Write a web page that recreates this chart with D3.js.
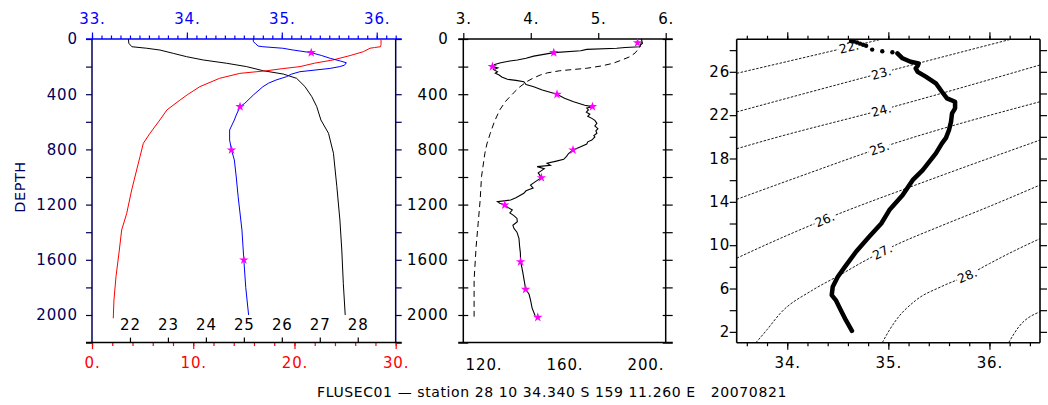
<!DOCTYPE html>
<html>
<head>
<meta charset="utf-8">
<script src="https://cdn.jsdelivr.net/npm/d3@7"></script>
<style>
  html, body { margin: 0; padding: 0; background: #fff; }
  svg { display: block; }
</style>
</head>
<body>
<svg id="chart" width="1048" height="405"></svg>
<script>
// ---------------- station profile data ----------------
// salinity (CTD) vs depth
const salDepth = [0, 20, 31, 51, 56, 67, 80, 99, 120, 140, 160, 172, 190, 200, 213, 237, 255, 273, 297, 320, 346, 406, 466, 490, 551, 587, 659, 732, 804, 877, 1000, 1143, 1384, 1601, 1800, 2000];
const salinity = [34.70, 34.70, 34.72, 34.75, 34.80, 35.01, 35.12, 35.31, 35.42, 35.51, 35.62, 35.68, 35.66, 35.61, 35.51, 35.19, 35.10, 35.05, 34.94, 34.86, 34.80, 34.70, 34.61, 34.56, 34.52, 34.50, 34.45, 34.45, 34.47, 34.50, 34.52, 34.54, 34.58, 34.60, 34.62, 34.65];
// salinity bottle samples
const botSalDepth = [99, 490, 804, 1601];
const botSal = [35.31, 34.56, 34.47, 34.60];

// temperature vs depth
const tempDepth = [0, 40, 56, 62, 67, 92, 120, 152, 175, 200, 215, 230, 249, 285, 345, 400, 442, 514, 587, 683, 756, 853, 949, 1094, 1263, 1384, 1529, 1722, 1891, 2024];
const temperature = [28.55, 28.55, 28.5, 27.9, 27.46, 26.8, 25.5, 23.8, 22.0, 20.55, 18.8, 17.26, 14.6, 12.6, 10.66, 9.5, 8.7, 7.4, 6.7, 5.73, 5.07, 4.74, 4.41, 3.92, 3.43, 2.93, 2.7, 2.37, 2.17, 2.1];

// sigma-theta vs depth
const sigDepth = [0, 31, 56, 67, 80, 104, 128, 152, 176, 200, 230, 254, 285, 345, 418, 490, 587, 683, 828, 1070, 1312, 1529, 1770, 2000];
const sigma = [21.96, 21.97, 22.05, 22.44, 22.79, 23.14, 23.49, 23.93, 24.55, 25.07, 25.51, 26.04, 26.39, 26.61, 26.79, 26.92, 27.03, 27.23, 27.36, 27.45, 27.53, 27.58, 27.62, 27.67];

// oxygen (CTD) vs depth, lower axis
const oxyDepth = [0, 31, 45, 56, 62, 67, 75, 85, 99, 124, 140, 152, 160, 172, 185, 200, 210, 222, 237, 248, 261, 275, 292, 300, 309, 330, 346, 370, 401, 430, 454, 480, 490, 500, 514, 530, 545, 560, 575, 590, 611, 630, 650, 665, 683, 700, 710, 732, 745, 761, 780, 804, 830, 850, 872, 885, 901, 915, 925, 940, 950, 970, 1005, 1030, 1058, 1080, 1100, 1118, 1150, 1167, 1179, 1190, 1203, 1220, 1239, 1260, 1280, 1300, 1324, 1350, 1372, 1400, 1444, 1500, 1550, 1614, 1660, 1700, 1760, 1814, 1850, 1891, 1950, 2005];
const oxygen = [198.0, 198.5, 197.5, 197.2, 190, 185.8, 171, 168, 154.7, 144.8, 141, 136.7, 133, 128.5, 125.5, 124.4, 127, 125, 126.9, 125.8, 127.7, 129, 131.8, 136, 139.9, 141, 144.8, 149, 156.3, 160, 164.5, 170, 173.8, 171, 171.8, 170.8, 172.5, 171.5, 173.5, 175, 176, 175, 176.5, 175.5, 176, 174.5, 175, 173.5, 171.5, 171, 168, 164.2, 162, 161, 159.6, 156, 151.4, 153, 146.5, 150, 149, 147, 148.6, 146, 143.2, 144.5, 141, 139.9, 136, 133.4, 126.9, 128, 130.5, 132, 134.2, 133, 135, 136.5, 136.7, 134.5, 135, 136.5, 137.5, 137.8, 138.2, 138.3, 139, 139.5, 140.2, 140.8, 142.5, 143.2, 144, 145.5];
// oxygen bottle samples
const botOxyDepth = [27, 99, 200, 401, 490, 804, 1005, 1203, 1614, 1814, 2017];
const botOxy = [196.1, 154.7, 124.4, 156.3, 173.8, 164.2, 148.6, 130.5, 138.3, 140.8, 146.8];

// second middle-panel profile, upper axis
const upperDepth = [20, 56, 100, 128, 150, 176, 195, 212, 230, 245, 261, 285, 309, 350, 393, 450, 514, 600, 683, 760, 828, 998, 1167, 1336, 1505, 1746, 2012];
const upperVal = [5.64, 5.62, 5.55, 5.47, 5.36, 5.22, 5.05, 4.83, 4.43, 4.25, 4.14, 4.03, 3.94, 3.83, 3.74, 3.63, 3.54, 3.46, 3.40, 3.35, 3.32, 3.27, 3.25, 3.22, 3.19, 3.16, 3.16];

// T-S diagram: surface scatter and continuous profile
const tsDotSal  = [34.63, 34.66, 34.69, 34.72, 34.75, 34.78, 34.84, 34.94, 35.04];
const tsDotTemp = [28.85, 28.8, 28.7, 28.6, 28.5, 28.4, 28.05, 27.9, 27.8];
const tsSal  = [35.09, 35.14, 35.22, 35.30, 35.29, 35.27, 35.29, 35.37, 35.47, 35.53, 35.58, 35.66, 35.66, 35.63, 35.62, 35.60, 35.57, 35.53, 35.47, 35.34, 35.24, 35.14, 35.01, 34.93, 34.81, 34.68, 34.57, 34.50, 34.45, 34.44, 34.48, 34.53, 34.58, 34.64];
const tsTemp = [27.7, 27.25, 26.93, 26.78, 26.55, 26.32, 26.0, 25.55, 24.94, 24.16, 23.55, 23.24, 22.63, 22.17, 21.39, 20.63, 19.9, 19.4, 18.47, 16.93, 16.0, 14.6, 13.24, 12.0, 10.77, 9.39, 8.0, 7.08, 6.16, 5.39, 4.93, 4.0, 3.08, 2.09];

// sigma-theta isopycnals in (salinity, temperature)
const iso22 = [[33.5, 25.86], [34.61, 28.29], [34.93, 29.0]];
const iso23 = [[33.5, 22.3], [34.93, 25.89], [36.21, 29.0]];
const iso24 = [[33.5, 18.9], [33.86, 19.86], [34.93, 22.47], [36.5, 26.63]];
const iso25 = [[33.5, 14.23], [34.2, 16.6], [34.91, 18.94], [36.5, 23.24]];
const iso26 = [[33.5, 8.8], [33.9, 10.5], [34.37, 12.37], [35.4, 16.0], [36.5, 19.7]];
const iso27 = [[33.69, 1.0], [33.8, 2.2], [33.93, 3.7], [34.25, 5.85], [34.52, 7.24], [34.75, 8.47], [34.94, 9.4], [35.07, 10.0], [35.5, 11.7], [35.99, 13.54], [36.5, 15.55]];
const iso28 = [[34.94, 1.0], [35.0, 2.0], [35.07, 3.0], [35.27, 4.9], [35.53, 6.2], [35.78, 7.2], [36.0, 8.3], [36.25, 9.5], [36.5, 10.6]];
const iso29 = [[36.19, 1.0], [36.29, 2.46], [36.5, 3.85]];
const isoLevels = [22, 23, 24, 25, 26, 27, 28, 29];
const isoLines = [iso22, iso23, iso24, iso25, iso26, iso27, iso28, iso29];
const isoLabelSal  = [34.61, 34.93, 34.93, 34.91, 34.37, 34.94, 35.78, null];
const isoLabelTemp = [28.29, 25.89, 22.47, 18.94, 12.37, 9.4, 7.2, null];

// tick values
const depthTicks = d3.range(0, 2201, 200);
const depthLabels = d3.range(0, 2001, 400);
const salTopMajor = [33, 34, 35, 36];
const tempMajor = [0, 10, 20, 30];
const sigmaTicks = [22, 23, 24, 25, 26, 27, 28];
const upperTicks = [3, 4, 5, 6];
const oxyTicks = [120, 160, 200];
const tsSalMajor = [34, 35, 36];
const tsTempTicks = d3.range(2, 29, 2);
const tsTempLabels = [2, 6, 10, 14, 18, 22, 26];

const titleText = "FLUSEC01 \u2014 station 28 10 34.340 S 159 11.260 E   20070821";

// ---------------- drawing ----------------
const FONT = "'DejaVu Sans', sans-serif";
const NAVY = "#00005a", BLUE = "#0000ff", RED = "#ff0000", MAG = "#ff00ff";
const svg = d3.select("#chart");

function styleAxis(g, color, size) {
  g.attr("font-family", FONT).attr("font-size", size).attr("letter-spacing", "0.9px");
  g.select(".domain").remove();
  g.selectAll(".tick line").attr("stroke", color).attr("stroke-width", 1.2);
  g.selectAll(".tick text").attr("fill", color);
}
function frameLine(x1, y1, x2, y2, color, w) {
  svg.append("line").attr("x1", x1).attr("y1", y1).attr("x2", x2).attr("y2", y2)
    .attr("stroke", color).attr("stroke-width", w || 1.5);
}
const star = d3.symbol().type(d3.symbolStar).size(28);

// ===== panel 1: T, S, sigma vs depth =====
const p1 = { x0: 92, x1: 395.7, y0: 39, y1: 342.6 };
const y1s = d3.scaleLinear().domain([0, 2200]).range([p1.y0, p1.y1]);
const xSal = d3.scaleLinear().domain([33, 36.2]).range([p1.x0, p1.x1]);
const xTemp = d3.scaleLinear().domain([0, 30]).range([p1.x0, p1.x1]);
const xSig = d3.scaleLinear().domain([21, 29]).range([p1.x0, p1.x1]);

// left depth axis
svg.append("g").attr("transform", `translate(${p1.x0},0)`)
  .call(d3.axisLeft(y1s).tickValues(depthTicks).tickSize(6).tickFormat(""))
  .call(g => styleAxis(g, NAVY, 15));
svg.append("g").attr("transform", `translate(${p1.x0},0)`)
  .call(d3.axisLeft(y1s).tickValues(depthLabels).tickSize(0).tickPadding(14).tickFormat(d3.format("d")))
  .call(g => styleAxis(g, NAVY, 15));
// right depth axis (ticks only)
svg.append("g").attr("transform", `translate(${p1.x1},0)`)
  .call(d3.axisRight(y1s).tickValues(depthTicks).tickSize(6).tickFormat(""))
  .call(g => styleAxis(g, NAVY, 15));
// top salinity axis
svg.append("g").attr("transform", `translate(0,${p1.y0})`)
  .call(d3.axisTop(xSal).tickValues(d3.range(33, 36.25, 0.1)).tickSize(3.5).tickFormat(""))
  .call(g => styleAxis(g, BLUE, 15));
svg.append("g").attr("transform", `translate(0,${p1.y0})`)
  .call(d3.axisTop(xSal).tickValues(salTopMajor).tickSize(6.5).tickPadding(9).tickFormat(d => d + "."))
  .call(g => styleAxis(g, BLUE, 15));
// bottom temperature axis
svg.append("g").attr("transform", `translate(0,${p1.y1})`)
  .call(d3.axisBottom(xTemp).tickValues(d3.range(0, 31, 2)).tickSize(3.5).tickFormat(""))
  .call(g => styleAxis(g, RED, 15));
svg.append("g").attr("transform", `translate(0,${p1.y1})`)
  .call(d3.axisBottom(xTemp).tickValues(tempMajor).tickSize(6.5).tickPadding(8.5).tickFormat(d => d + "."))
  .call(g => styleAxis(g, RED, 15));
// sigma ticks pointing into the plot, labels above them
svg.append("g").attr("transform", `translate(0,${p1.y1})`)
  .call(d3.axisTop(xSig).tickValues(sigmaTicks).tickSize(5).tickPadding(7.5).tickFormat(d3.format("d")))
  .call(g => styleAxis(g, "#000", 15));

frameLine(p1.x0, p1.y0, p1.x0, p1.y1, NAVY);
frameLine(p1.x1, p1.y0, p1.x1, p1.y1, NAVY);
frameLine(p1.x0 - 6, p1.y0, p1.x1 + 6, p1.y0, BLUE);
frameLine(p1.x0 - 6, p1.y1, p1.x1 + 6, p1.y1, "#000");

svg.append("text").attr("transform", `translate(25,187) rotate(-90)`)
  .attr("text-anchor", "middle").attr("font-family", FONT).attr("font-size", 14.5)
  .attr("letter-spacing", "0.5px").attr("fill", NAVY).text("DEPTH");

const lineP1 = (xs, vals, depths) => d3.line().x((d, i) => xs(vals[i])).y((d, i) => y1s(depths[i]))(depths);
svg.append("path").attr("d", lineP1(xSig, sigma, sigDepth)).attr("fill", "none").attr("stroke", "#000").attr("stroke-width", 1);
svg.append("path").attr("d", lineP1(xTemp, temperature, tempDepth)).attr("fill", "none").attr("stroke", RED).attr("stroke-width", 1);
svg.append("path").attr("d", lineP1(xSal, salinity, salDepth)).attr("fill", "none").attr("stroke", BLUE).attr("stroke-width", 1);
svg.append("g").selectAll("path").data(botSalDepth).join("path")
  .attr("d", star).attr("fill", MAG)
  .attr("transform", (d, i) => `translate(${xSal(botSal[i])},${y1s(d)})`);

// ===== panel 2: oxygen vs depth =====
const p2 = { x0: 463.3, x1: 665.7, y0: 39, y1: 342.6 };
const xOxy = d3.scaleLinear().domain([110, 210]).range([p2.x0, p2.x1]);
const xUp = d3.scaleLinear().domain([3, 6]).range([p2.x0, p2.x1]);

svg.append("g").attr("transform", `translate(${p2.x0},0)`)
  .call(d3.axisLeft(y1s).tickValues(depthTicks).tickSizeInner(5).tickSizeOuter(0).tickFormat(""))
  .call(g => styleAxis(g, "#000", 15))
  .call(g => g.selectAll(".tick line").attr("x1", 5).attr("x2", -5));
svg.append("g").attr("transform", `translate(${p2.x0},0)`)
  .call(d3.axisLeft(y1s).tickValues(depthLabels).tickSize(0).tickPadding(14.5).tickFormat(d3.format("d")))
  .call(g => styleAxis(g, "#000", 15));
svg.append("g").attr("transform", `translate(${p2.x1},0)`)
  .call(d3.axisRight(y1s).tickValues(depthTicks).tickSize(7).tickFormat(""))
  .call(g => styleAxis(g, "#000", 15))
  .call(g => g.selectAll(".tick line").attr("x1", -3).attr("x2", 7));
svg.append("g").attr("transform", `translate(0,${p2.y0})`)
  .call(d3.axisTop(xUp).tickValues(upperTicks).tickSize(6).tickPadding(9.5).tickFormat(d => d + "."))
  .call(g => styleAxis(g, "#000", 15));
svg.append("g").attr("transform", `translate(0,${p2.y1})`)
  .call(d3.axisBottom(xOxy).tickValues(oxyTicks).tickSize(0).tickPadding(17).tickFormat(d => d + "."))
  .call(g => styleAxis(g, "#000", 15));

frameLine(p2.x0, p2.y0, p2.x0, p2.y1, "#000");
frameLine(p2.x1, p2.y0, p2.x1, p2.y1, "#000");
frameLine(p2.x0 - 5, p2.y0, p2.x1 + 7, p2.y0, "#000");
frameLine(p2.x0 - 5, p2.y1, p2.x1 + 7, p2.y1, "#000");

svg.append("path")
  .attr("d", d3.line().x((d, i) => xUp(upperVal[i])).y(d => y1s(d))(upperDepth))
  .attr("fill", "none").attr("stroke", "#000").attr("stroke-width", 1).attr("stroke-dasharray", "6,4");
svg.append("path")
  .attr("d", d3.line().x((d, i) => xOxy(oxygen[i])).y(d => y1s(d))(oxyDepth))
  .attr("fill", "none").attr("stroke", "#000").attr("stroke-width", 1.1);
svg.append("g").selectAll("path").data(botOxyDepth).join("path")
  .attr("d", star).attr("fill", MAG)
  .attr("transform", (d, i) => `translate(${xOxy(botOxy[i])},${y1s(d)})`);

// ===== panel 3: T-S diagram =====
const p3 = { x0: 736.7, x1: 1040, y0: 39.3, y1: 342.7 };
const xS = d3.scaleLinear().domain([33.5, 36.5]).range([p3.x0, p3.x1]);
const yT = d3.scaleLinear().domain([1, 29]).range([p3.y1, p3.y0]);

const minorS = d3.range(33.6, 36.45, 0.2);
svg.append("g").attr("transform", `translate(0,${p3.y1})`)
  .call(d3.axisBottom(xS).tickValues(minorS).tickSize(3.5).tickFormat(""))
  .call(g => styleAxis(g, "#000", 15));
svg.append("g").attr("transform", `translate(0,${p3.y1})`)
  .call(d3.axisBottom(xS).tickValues(tsSalMajor).tickSize(7).tickPadding(8).tickFormat(d => d + "."))
  .call(g => styleAxis(g, "#000", 15));
svg.append("g").attr("transform", `translate(0,${p3.y0})`)
  .call(d3.axisTop(xS).tickValues(minorS).tickSize(3.5).tickFormat(""))
  .call(g => styleAxis(g, "#000", 15));
svg.append("g").attr("transform", `translate(0,${p3.y0})`)
  .call(d3.axisTop(xS).tickValues(tsSalMajor).tickSize(7).tickFormat(""))
  .call(g => styleAxis(g, "#000", 15));
svg.append("g").attr("transform", `translate(${p3.x0},0)`)
  .call(d3.axisLeft(yT).tickValues(tsTempTicks).tickSize(7).tickFormat(""))
  .call(g => styleAxis(g, "#000", 15));
svg.append("g").attr("transform", `translate(${p3.x0},0)`)
  .call(d3.axisLeft(yT).tickValues(tsTempLabels).tickSize(0).tickPadding(6.5).tickFormat(d3.format("d")))
  .call(g => styleAxis(g, "#000", 15));
svg.append("g").attr("transform", `translate(${p3.x1},0)`)
  .call(d3.axisRight(yT).tickValues(tsTempTicks).tickSize(7).tickFormat(""))
  .call(g => styleAxis(g, "#000", 15));

// isopycnals
const clipId = "tsClip";
svg.append("clipPath").attr("id", clipId).append("rect")
  .attr("x", p3.x0).attr("y", p3.y0).attr("width", p3.x1 - p3.x0).attr("height", p3.y1 - p3.y0);
const isoLine = d3.line().x(d => xS(d[0])).y(d => yT(d[1])).curve(d3.curveMonotoneX);
const gIso = svg.append("g").attr("clip-path", `url(#${clipId})`);
isoLines.forEach(pts => {
  gIso.append("path").attr("d", isoLine(pts)).attr("fill", "none")
    .attr("stroke", "#000").attr("stroke-width", 0.9).attr("stroke-dasharray", "2.5,1.5");
});
// contour labels, set into a gap along the line
isoLevels.forEach((lev, k) => {
  if (isoLabelSal[k] == null) return;
  const px = xS(isoLabelSal[k]), py = yT(isoLabelTemp[k]);
  const pts = isoLines[k].map(p => [xS(p[0]), yT(p[1])]);
  let best = Infinity, ang = 0;
  for (let i = 0; i < pts.length - 1; i++) {
    const [ax, ay] = pts[i], [bx, by] = pts[i + 1];
    const dx = bx - ax, dy = by - ay;
    const t = Math.max(0, Math.min(1, ((px - ax) * dx + (py - ay) * dy) / (dx * dx + dy * dy)));
    const dist = Math.hypot(ax + t * dx - px, ay + t * dy - py);
    if (dist < best) { best = dist; ang = Math.atan2(dy, dx) * 180 / Math.PI; }
  }
  const g = svg.append("g").attr("transform", `translate(${px},${py}) rotate(${ang})`);
  g.append("rect").attr("x", -11).attr("y", -6).attr("width", 22).attr("height", 12).attr("fill", "#fff");
  g.append("text").attr("text-anchor", "middle").attr("dy", "0.36em")
    .attr("font-family", FONT).attr("font-size", 12.5).attr("fill", "#000").text(lev + ".");
});

frameLine(p3.x0, p3.y0, p3.x0, p3.y1, "#000", 1.6);
frameLine(p3.x1, p3.y0, p3.x1, p3.y1, "#000", 1.6);
frameLine(p3.x0, p3.y0, p3.x1, p3.y0, "#000", 1.6);
frameLine(p3.x0, p3.y1, p3.x1, p3.y1, "#000", 1.6);

// T-S profile
svg.append("g").selectAll("circle").data(tsDotSal).join("circle")
  .attr("cx", d => xS(d)).attr("cy", (d, i) => yT(tsDotTemp[i])).attr("r", 2.2).attr("fill", "#000");
svg.append("path")
  .attr("d", d3.line().x(d => xS(d)).y((d, i) => yT(tsTemp[i]))(tsSal))
  .attr("fill", "none").attr("stroke", "#000").attr("stroke-width", 4.5)
  .attr("stroke-linejoin", "round").attr("stroke-linecap", "round");

// ===== title =====
svg.append("text").attr("x", 552).attr("y", 397).attr("text-anchor", "middle")
  .attr("font-family", FONT).attr("font-size", 14).attr("letter-spacing", "0.6px").attr("fill", "#000")
  .attr("xml:space", "preserve").style("white-space", "pre").text(titleText);
</script>
</body>
</html>
